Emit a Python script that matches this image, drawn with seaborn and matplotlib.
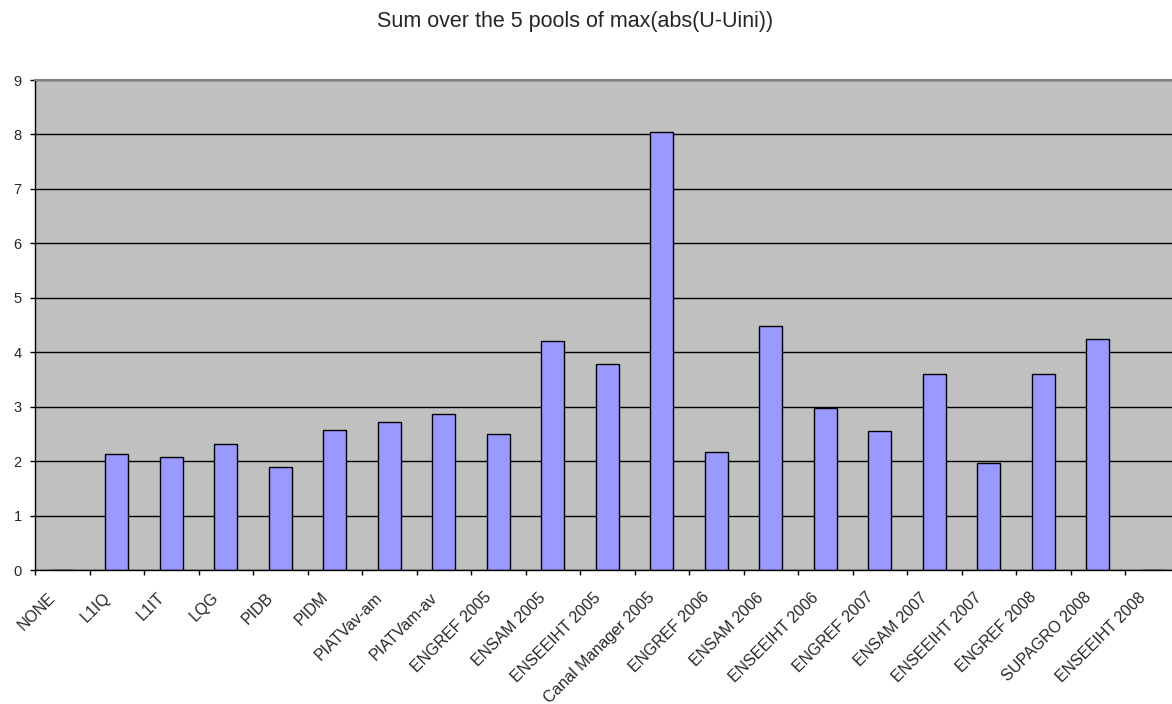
import matplotlib
matplotlib.use("Agg")
import matplotlib.pyplot as plt
import seaborn as sns
import pandas as pd
import numpy as np


categorias = [
    "NONE", "L1IQ", "L1IT", "LQG", "PIDB", "PIDM", "PIATVav-am", "PIATVam-av",
    "ENGREF 2005", "ENSAM 2005", "ENSEEIHT 2005", "Canal Manager 2005",
    "ENGREF 2006", "ENSAM 2006", "ENSEEIHT 2006",
    "ENGREF 2007", "ENSAM 2007", "ENSEEIHT 2007",
    "ENGREF 2008", "SUPAGRO 2008", "ENSEEIHT 2008",
]
valores = [
    0.0, 2.13, 2.08, 2.31, 1.89, 2.58, 2.72, 2.87,
    2.49, 4.20, 3.78, 8.04,
    2.17, 4.49, 2.97,
    2.56, 3.60, 1.97,
    3.60, 4.24, 0.0,
]
y_ticks = list(range(0, 10))
titulo = "Sum over the 5 pools of max(abs(U-Uini))"


sns.set_style("white")
plt.rcParams["font.family"] = ["Liberation Sans", "DejaVu Sans"]

fig = plt.figure(figsize=(11.72, 7.04), dpi=100)
ax = fig.add_axes([35 / 1172, 1 - 570 / 704, 1 - 35 / 1172, (570 - 80) / 704])
ax.set_facecolor("#C0C0C0")

df = pd.DataFrame({"categoria": categorias, "valor": valores})
sns.barplot(
    data=df, x="categoria", y="valor", color="#9999FF", saturation=1,
    edgecolor="black", linewidth=1, width=0.42, ax=ax,
)
ax.set_axisbelow(True)

# eixo y
ax.set_ylim(0, 9)
ax.set_yticks(y_ticks)
ax.set_yticklabels([str(v) for v in y_ticks], fontsize=10.5)
ax.yaxis.grid(True, color="black", linewidth=1)
ax.xaxis.grid(False)
ax.tick_params(axis="y", direction="out", length=3.6, width=1, color="black",
               left=True, pad=6)

# eixo x: tracinhos nas divisorias, rotulos deslocados (estilo Excel)
idx = np.arange(len(categorias))
ax.set_xticks(idx - 0.5, minor=True)
ax.set_xticks(idx - 0.17)
ax.set_xticklabels(categorias, rotation=45, ha="right", va="center",
                   rotation_mode="anchor", fontsize=11.5)
ax.tick_params(axis="x", which="major", length=0, pad=18)
ax.tick_params(axis="x", which="minor", direction="out", length=3.6, width=1,
               color="black", bottom=True)
ax.set_xlim(-0.5, 20.36)
ax.set_xlabel("")
ax.set_ylabel("")

for lado in ["left", "bottom"]:
    ax.spines[lado].set_color("black")
    ax.spines[lado].set_linewidth(1)
ax.spines["top"].set_color("#808080")
ax.spines["top"].set_linewidth(1.5)
ax.spines["right"].set_visible(False)

fig.text(575 / 1172, 1 - 21 / 704, titulo, ha="center", va="center", fontsize=15.5)

fig.savefig("out.png", dpi=100)
